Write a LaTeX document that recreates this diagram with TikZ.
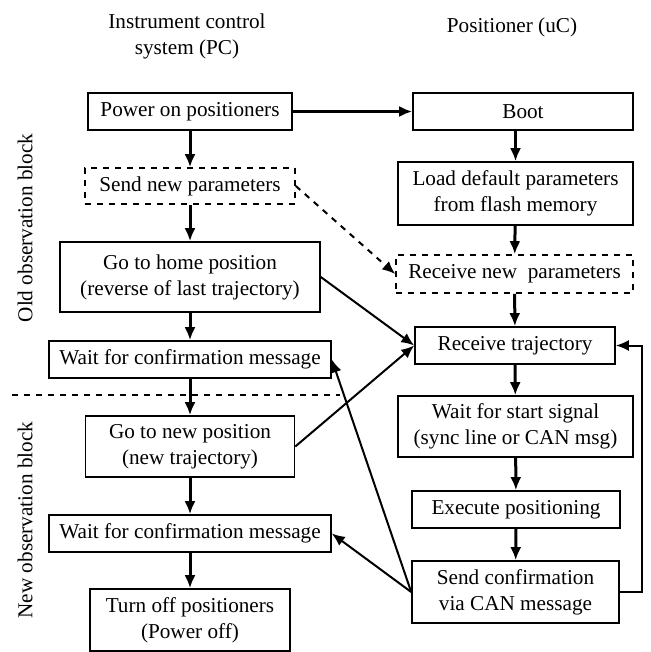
\documentclass[tikz,border=0pt]{standalone}
\usepackage{fontspec}
\setmainfont{Liberation Serif}
\usetikzlibrary{arrows.meta}
\begin{document}
\begin{tikzpicture}[x=0.5pt, y=-0.5pt, font=\fontsize{10.6}{13}\selectfont, line join=miter, >={Latex[length=6.5pt,width=5.5pt]},
		box/.style={draw, line width=0.8pt, inner sep=0pt, align=center},
		dbox/.style={box, dashed},
		thick arrow/.style={->, line width=1.5pt},
		thin arrow/.style={->, line width=1pt}
		]
		\useasboundingbox (0,0) rectangle (651,652);
		% titles
		\node[align=center] (pctitle) at (187,36) {Instrument control\\system (PC)};
		\node (uctitle) at (512,27) {Positioner (uC)};
		\node[rotate=90] (oldblock) at (25,228) {Old observation block};
		\node[rotate=90] (newblock) at (25,520) {New observation block};
		% PC side
		\node[box, minimum width=102pt, minimum height=18.5pt] (pon) at (190,111.5) {Power on positioners};
		\node[dbox, minimum width=105pt, minimum height=18pt] (send) at (190,186) {Send new parameters};
		\node[box, minimum width=130pt, minimum height=35pt] (home) at (190,277) {Go to home position\\(reverse of last trajectory)};
		\node[box, minimum width=141pt, minimum height=18.5pt] (wait1) at (190,359.5) {Wait for confirmation message};
		\node[box, minimum width=104.5pt, minimum height=30.5pt] (gonew) at (190,446.5) {Go to new position\\(new trajectory)};
		\node[box, minimum width=141pt, minimum height=18.5pt] (wait2) at (190,533.5) {Wait for confirmation message};
		\node[box, minimum width=100pt, minimum height=31pt] (off) at (190,620) {Turn off positioners\\(Power off)};
		% uC side
		\node[box, minimum width=110pt, minimum height=18.5pt] (boot) at (523,111.5) {Boot};
		\node[box, minimum width=117.5pt, minimum height=31.5pt] (load) at (515.5,193.5) {Load default parameters\\from flash memory};
		\node[dbox, minimum width=118.5pt, minimum height=19pt] (recvp) at (514.5,274) {Receive new\ \ parameters};
		\node[box, minimum width=100pt, minimum height=18.5pt] (recvt) at (515,345.5) {Receive trajectory};
		\node[box, minimum width=117.5pt, minimum height=30.5pt] (start) at (515.5,426.5) {Wait for start signal\\(sync line or CAN msg)};
		\node[box, minimum width=104pt, minimum height=18.5pt] (exec) at (516,509.5) {Execute positioning};
		\node[box, minimum width=103.5pt, minimum height=31pt] (sendc) at (515.5,592) {Send confirmation\\via CAN message};
		% block separator
		\coordinate (sepl) at (12,395);
		\coordinate (sepr) at (340,395);
		\draw[dashed, line width=0.6pt] (sepl)--(sepr);
		% flow
		\draw[thick arrow] (pon)--(boot);
		\draw[thick arrow] (pon)--(send);
		\draw[thick arrow] (send)--(home);
		\draw[thick arrow] (home)--(wait1);
		\draw[thick arrow] (wait1)--(gonew);
		\draw[thick arrow] (gonew)--(wait2);
		\draw[thick arrow] (wait2)--(off);
		\draw[thick arrow] (boot.south -| load)--(load);
		\draw[thick arrow] (load)--(recvp);
		\draw[thick arrow] (recvp)--(recvt);
		\draw[thick arrow] (recvt)--(start);
		\draw[thick arrow] (start)--(exec);
		\draw[thick arrow] (exec)--(sendc);
		\draw[thin arrow, dashed] (send.east)--(recvp.west);
		\draw[thin arrow] (home.east)--(recvt.west);
		\draw[thin arrow] (gonew.east)--(recvt.west);
		\draw[thin arrow] (sendc.west)--(wait1.east);
		\draw[thin arrow] (sendc.west)--(wait2.east);
		\coordinate (loop) at (642,0);
		\draw[thin arrow] (sendc.east)--(sendc.east -| loop)|-(recvt.east);
\end{tikzpicture}
\end{document}
